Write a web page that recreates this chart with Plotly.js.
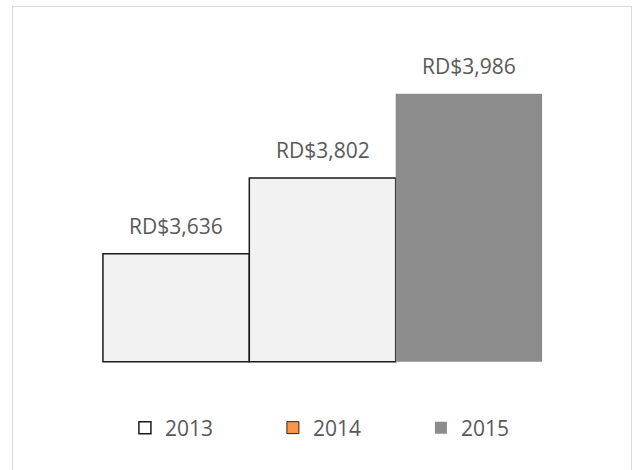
<!DOCTYPE html>
<html>
<head>
<meta charset="utf-8">
<script src="https://cdn.plot.ly/plotly-3.0.1.min.js"></script>
<style>
  html, body { margin: 0; padding: 0; background: #ffffff; }
  #wrap { position: relative; width: 633px; height: 470px; overflow: hidden; }
  #chart { position: absolute; left: 0; top: 0; width: 633px; height: 470px; }
  #frame { position: absolute; left: 12px; top: 6px; width: 618px; height: 480px;
           border: 1px solid #d9d9d9; pointer-events: none; }
</style>
</head>
<body>
<div id="wrap">
  <div id="chart"></div>
  <div id="frame"></div>
</div>
<script>
// ---- data ----
const years = ['2013', '2014', '2015'];
const values = [3636, 3802, 3986];
const labels = ['RD$3,636', 'RD$3,802', 'RD$3,986'];
const legendNames = ['2013', '2014', '2015'];
const BASE = 3400;

// ---- styles ----
const barFill = ['#f2f2f2', '#f2f2f2', '#8c8c8c'];
const barLine = ['#1a1a1a', '#1a1a1a', '#8c8c8c'];
const barLineW = [1.5, 1.5, 0];
const legFill = ['#ffffff', '#f79646', '#8c8c8c'];
const legLine = ['#1a1a1a', '#3a2410', '#8c8c8c'];
const legLineW = [1.5, 1, 0];
const FONT = '"Open Sans", "DejaVu Sans", sans-serif';
const TXT = '#595959';

const traces = [{
  type: 'bar',
  x: years,
  y: values.map(v => v - BASE),
  base: BASE,
  width: 1,
  showlegend: false,
  marker: { color: barFill, line: { color: barLine, width: barLineW } },
  hoverinfo: 'skip'
}];

legendNames.forEach((n, i) => {
  traces.push({
    type: 'bar', x: [null], y: [null], name: n, showlegend: true,
    marker: { color: legFill[i], line: { color: legLine[i], width: legLineW[i] } }
  });
});

// category axis: annotation x uses the category index
const annotations = years.map((yr, i) => ({
  x: i, y: values[i], xref: 'x', yref: 'y',
  text: labels[i], showarrow: false,
  xanchor: 'center', yanchor: 'bottom', yshift: 12,
  font: { family: FONT, size: 21, color: TXT }
}));

const layout = {
  width: 633, height: 470,
  margin: { l: 100, r: 88, t: 44, b: 106, pad: 0 },
  paper_bgcolor: 'rgba(0,0,0,0)',
  plot_bgcolor: 'rgba(0,0,0,0)',
  barmode: 'overlay',
  bargap: 0,
  xaxis: {
    type: 'category', range: [-0.52, 2.52],
    showticklabels: false, showgrid: false, zeroline: false, showline: false, ticks: ''
  },
  yaxis: {
    range: [3395, 4095],
    showticklabels: false, showgrid: false, zeroline: false, showline: false, ticks: ''
  },
  showlegend: true,
  legend: {
    orientation: 'h', x: 0.056, xanchor: 'left', y: -0.2, yanchor: 'middle',
    entrywidth: 103, traceorder: 'normal',
    font: { family: FONT, size: 21, color: TXT },
    bgcolor: 'rgba(0,0,0,0)'
  },
  annotations: annotations
};

Plotly.newPlot('chart', traces, layout, { staticPlot: true, displayModeBar: false });
</script>
</body>
</html>
